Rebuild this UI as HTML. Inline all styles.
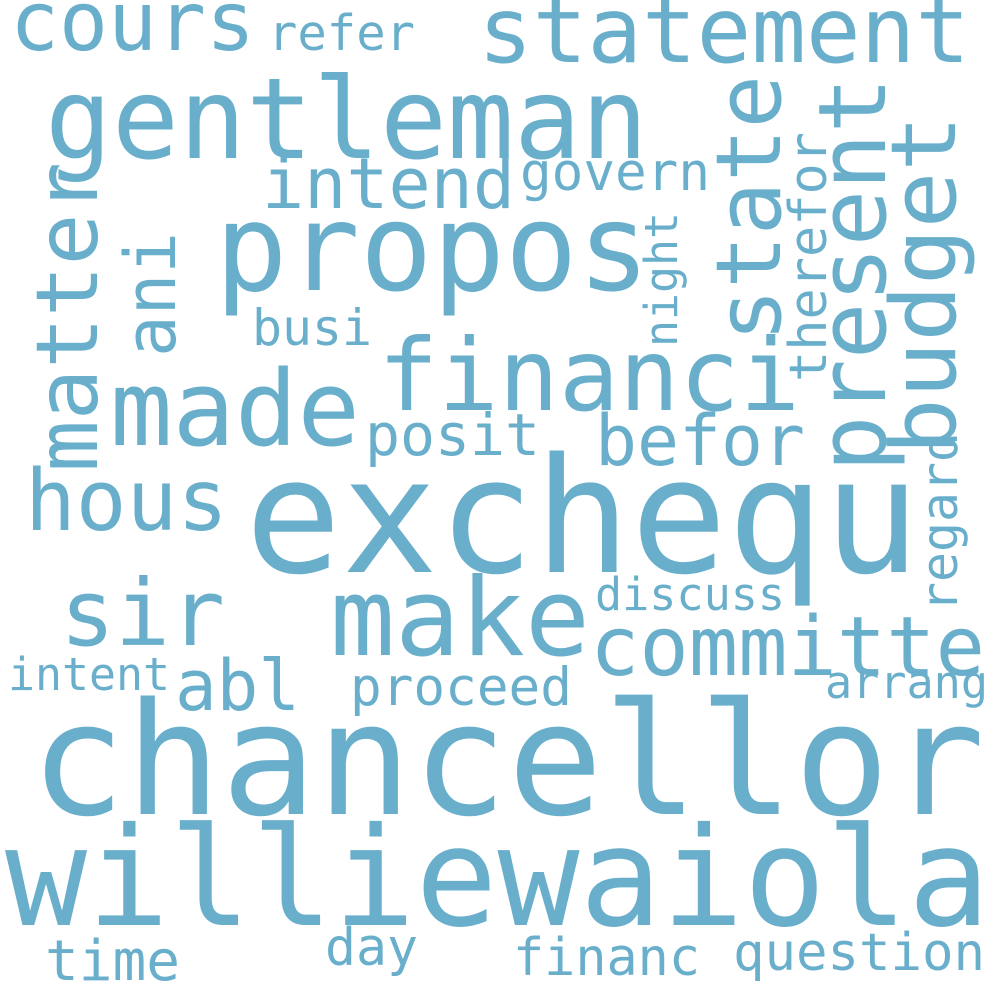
<!DOCTYPE html>
<html>
<head>
<meta charset="utf-8">
<style>
html,body{margin:0;padding:0;background:#fff;}
svg{display:block;}
text{font-family:"DejaVu Sans Mono","Liberation Mono",monospace;fill:#69afcb;}
</style>
</head>
<body>
<svg width="1000" height="1000" viewBox="0 0 1000 1000">
<rect width="1000" height="1000" fill="#fff"/>
<text x="30" y="814" font-size="156" textLength="955" lengthAdjust="spacingAndGlyphs">chancellor</text>
<text x="5" y="925" font-size="137" textLength="985" lengthAdjust="spacingAndGlyphs">williewaiola</text>
<text x="245" y="572" font-size="160" textLength="675" lengthAdjust="spacingAndGlyphs">exchequ</text>
<text x="45" y="158" font-size="112" textLength="603" lengthAdjust="spacingAndGlyphs">gentleman</text>
<text x="215" y="290" font-size="121" textLength="435" lengthAdjust="spacingAndGlyphs">propos</text>
<text x="478" y="62" font-size="91" textLength="492" lengthAdjust="spacingAndGlyphs">statement</text>
<text x="10" y="50" font-size="82" textLength="245" lengthAdjust="spacingAndGlyphs">cours</text>
<text x="268" y="50" font-size="49" textLength="147" lengthAdjust="spacingAndGlyphs">refer</text>
<text x="262" y="208" font-size="70" textLength="253" lengthAdjust="spacingAndGlyphs">intend</text>
<text x="520" y="190" font-size="53" textLength="190" lengthAdjust="spacingAndGlyphs">govern</text>
<text x="378" y="410" font-size="100" textLength="422" lengthAdjust="spacingAndGlyphs">financi</text>
<text x="110" y="445" font-size="104" textLength="250" lengthAdjust="spacingAndGlyphs">made</text>
<text x="25" y="530" font-size="85" textLength="203" lengthAdjust="spacingAndGlyphs">hous</text>
<text x="595" y="465" font-size="70" textLength="210" lengthAdjust="spacingAndGlyphs">befor</text>
<text x="365" y="455" font-size="58" textLength="175" lengthAdjust="spacingAndGlyphs">posit</text>
<text x="252" y="345" font-size="50" textLength="120" lengthAdjust="spacingAndGlyphs">busi</text>
<text x="60" y="645" font-size="92" textLength="165" lengthAdjust="spacingAndGlyphs">sir</text>
<text x="330" y="655" font-size="108" textLength="260" lengthAdjust="spacingAndGlyphs">make</text>
<text x="590" y="675" font-size="82" textLength="395" lengthAdjust="spacingAndGlyphs">committe</text>
<text x="595" y="610" font-size="45" textLength="190" lengthAdjust="spacingAndGlyphs">discuss</text>
<text x="175" y="710" font-size="70" textLength="125" lengthAdjust="spacingAndGlyphs">abl</text>
<text x="350" y="705" font-size="53" textLength="222" lengthAdjust="spacingAndGlyphs">proceed</text>
<text x="8" y="690" font-size="45" textLength="162" lengthAdjust="spacingAndGlyphs">intent</text>
<text x="825" y="698" font-size="45" textLength="163" lengthAdjust="spacingAndGlyphs">arrang</text>
<text x="45" y="980" font-size="56" textLength="135" lengthAdjust="spacingAndGlyphs">time</text>
<text x="325" y="965" font-size="52" textLength="93" lengthAdjust="spacingAndGlyphs">day</text>
<text x="513" y="975" font-size="52" textLength="187" lengthAdjust="spacingAndGlyphs">financ</text>
<text x="733" y="970" font-size="52" textLength="252" lengthAdjust="spacingAndGlyphs">question</text>
<text transform="translate(97,472) rotate(-90)" font-size="86" textLength="310" lengthAdjust="spacingAndGlyphs">matter</text>
<text transform="translate(175,357) rotate(-90)" font-size="70" textLength="125" lengthAdjust="spacingAndGlyphs">ani</text>
<text transform="translate(780,342) rotate(-90)" font-size="90" textLength="267" lengthAdjust="spacingAndGlyphs">state</text>
<text transform="translate(885,472) rotate(-90)" font-size="94" textLength="395" lengthAdjust="spacingAndGlyphs">present</text>
<text transform="translate(955,455) rotate(-90)" font-size="90" textLength="340" lengthAdjust="spacingAndGlyphs">budget</text>
<text transform="translate(677,347) rotate(-90)" font-size="45" textLength="135" lengthAdjust="spacingAndGlyphs">night</text>
<text transform="translate(826,382) rotate(-90)" font-size="52" textLength="250" lengthAdjust="spacingAndGlyphs">therefor</text>
<text transform="translate(957,612) rotate(-90)" font-size="50" textLength="180" lengthAdjust="spacingAndGlyphs">regard</text>
</svg>
</body>
</html>
